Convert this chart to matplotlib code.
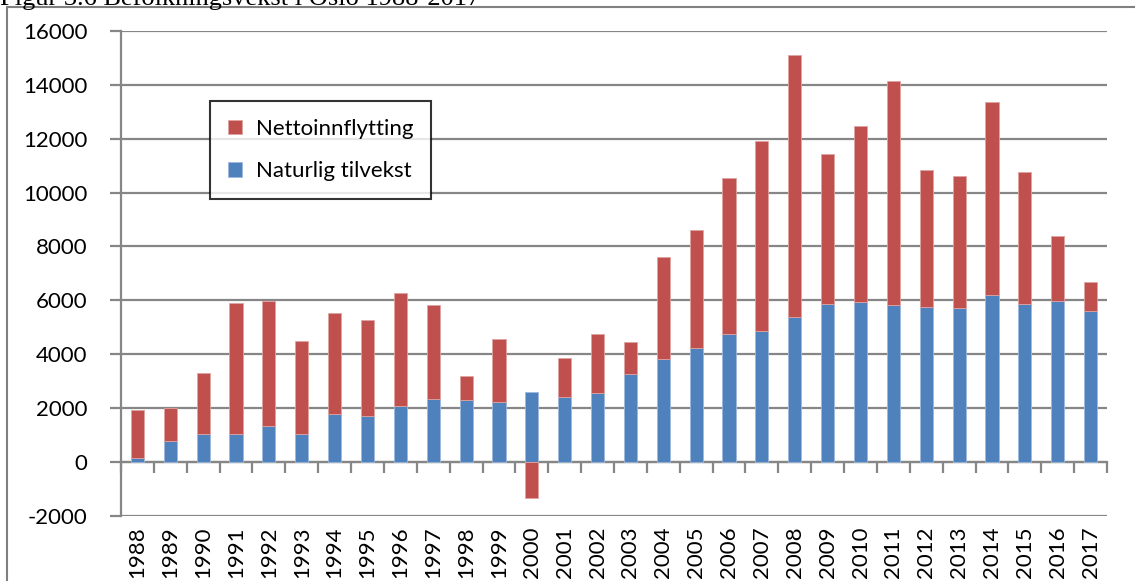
import numpy as np
import matplotlib
matplotlib.use("Agg")
import matplotlib.pyplot as plt
from matplotlib.patches import Rectangle

years = [str(y) for y in range(1988, 2018)]
naturlig = [130, 760, 1020, 1040, 1340, 1040, 1770, 1710, 2060, 2330,
            2290, 2230, 2580, 2390, 2540, 3250, 3800, 4240, 4730, 4860,
            5390, 5870, 5950, 5810, 5750, 5700, 6180, 5850, 5980, 5590]
totalt = [1920, 2010, 3300, 5900, 5985, 4475, 5520, 5256, 6282, 5813,
          3190, 4560, -1360, 3866, 4735, 4460, 7620, 8600, 10556, 11910,
          15116, 11448, 12477, 14137, 10829, 10618, 13381, 10767, 8400, 6678]
# 2000: nettoinnflytting negativ (totalt-lista holder nettoverdien direkte der)
netto = [t - n if t >= 0 else t for t, n in zip(totalt, naturlig)]

BLUE = "#4F81BD"
RED = "#C0504D"
GRID = "#868686"

plt.rcParams["font.family"] = ["Lato", "DejaVu Sans"]
plt.rcParams["axes.unicode_minus"] = False

fig = plt.figure(figsize=(11.35, 5.81), dpi=100)
ax = fig.add_axes([121 / 1135, 65.5 / 581, (1107 - 121) / 1135, (549.7 - 65.5) / 581])

x = np.arange(len(years))
naturlig = np.array(naturlig)
netto = np.array(netto)
bottom = np.where(netto >= 0, naturlig, 0)

ax.bar(x, naturlig, width=0.4, color=BLUE, edgecolor="#9DB9DC", linewidth=0.6,
       label="Naturlig tilvekst", zorder=3)
ax.bar(x, netto, bottom=bottom, width=0.4, color=RED, edgecolor="#E0A3A1",
       linewidth=0.6, label="Nettoinnflytting", zorder=3)

ax.set_xlim(-0.5, len(years) - 0.5)
ax.set_ylim(-2000, 16000)
ax.set_yticks(np.arange(-2000, 16001, 2000))
ax.yaxis.grid(True, color=GRID, linewidth=1.6)
ax.set_axisbelow(True)

for s in ["top", "right", "bottom"]:
    ax.spines[s].set_visible(False)
ax.spines["left"].set_color(GRID)
ax.spines["left"].set_linewidth(1.6)
ax.tick_params(axis="y", direction="out", length=8, width=1.6, color=GRID,
               labelsize=16, pad=16)

ax.set_xticks(x)
ax.set_xticklabels(years, rotation=90, fontsize=16)
ax.tick_params(axis="x", length=0, pad=8)

# kategoriaksen krysser ved 0
zero = ax.secondary_xaxis(2000 / 18000)
zero.spines["bottom"].set_color(GRID)
zero.spines["bottom"].set_linewidth(1.6)
zero.set_xticks(np.arange(-0.5, len(years), 1.0))
zero.tick_params(axis="x", direction="out", length=8, width=1.6, color=GRID,
                 labelbottom=False)

h, l = ax.get_legend_handles_labels()
leg = ax.legend(h[::-1], l[::-1], loc="upper left",
                bbox_to_anchor=(210 / 1135, 1 - 101 / 581),
                bbox_transform=fig.transFigure, fontsize=16, frameon=True,
                fancybox=False, edgecolor="black", handlelength=0.65,
                handleheight=0.65, handletextpad=0.6, labelspacing=1.0,
                borderpad=0.8, borderaxespad=0)
leg.get_frame().set_linewidth(1.5)

# ramme og avkuttet figurtittel
fig.patches.append(Rectangle((7 / 1135, -0.1), 1.2, 1 - 7 / 581 + 0.1,
                             transform=fig.transFigure, fill=False,
                             edgecolor="#808080", linewidth=1.5))
fig.text(0, 1 - 5 / 581, "Figur 3.6 Befolkningsvekst i Oslo 1988-2017",
         family="Liberation Serif", fontsize=19, va="baseline", ha="left")

fig.savefig("out.png", dpi=100)
